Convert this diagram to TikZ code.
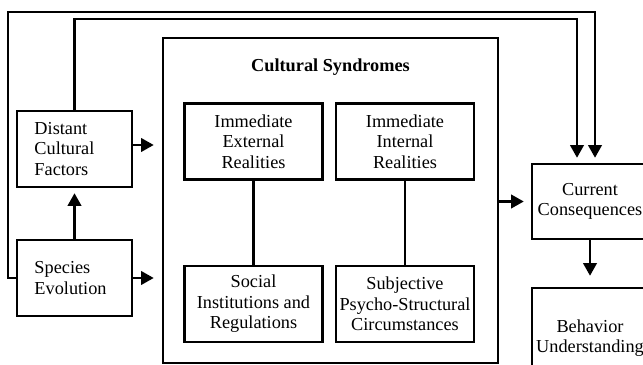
\documentclass[tikz,border=0pt]{standalone}
\usepackage{fontspec}
\setmainfont{Liberation Serif}
\usetikzlibrary{arrows.meta}

\begin{document}
\begin{tikzpicture}[
  x=0.025cm, y=-0.025cm,
  every node/.style={font=\fontsize{13}{14.6}\selectfont},
  box/.style={draw, line width=1.7pt, inner sep=0pt, align=center},
  sidebox/.style={box, minimum width=2.875cm, minimum height=1.9cm,
    text width=2cm, align=left, inner xsep=0.4375cm},
  innerbox/.style={box, minimum width=3.45cm, minimum height=1.9cm},
  rightbox/.style={box, minimum width=2.9cm},
  link/.style={line width=1.9pt},
  arr/.style={link, -{Triangle[length=9pt,width=9.5pt]}}
]
\clip (0,0) rectangle (643,365);

\node[sidebox] (dist) at (74.5,149) {Distant\\Cultural\\Factors};
\node[sidebox] (spec) at (74.5,278) {Species\\Evolution};

\node[box, minimum width=8.375cm, minimum height=8.125cm] (big) at (330.5,200.5) {};
\node[font={\fontsize{13}{14.6}\selectfont\bfseries}] (title) at (330.5,67) {Cultural Syndromes};
\node[innerbox] (ext) at (253.5,141.5) {Immediate\\External\\Realities};
\node[innerbox] (int) at (405,141.5) {Immediate\\Internal\\Realities};
\node[innerbox] (soc) at (253.5,304) {Social\\Institutions and\\Regulations};
\node[innerbox] (subj) at (405,304) {Subjective\\Psycho-Structural\\Circumstances};

\node[rightbox, minimum height=1.875cm] (cur) at (590,201.5) {Current\\Consequences};
\node[rightbox, minimum height=2.5cm] (beh) at (590,338) {Behavior\\Understanding};

\coordinate (c1) at (8,12);
\coordinate (c2) at (595,12);
\coordinate (c4) at (577,19);

\draw[link] (ext) -- (soc);
\draw[link] (int) -- (subj);

\draw[arr, shorten >=0.2cm] ([yshift=0.1cm]dist.east) -- ([yshift=0.1cm]big.west |- dist.east);
\draw[arr, shorten >=0.2cm] (spec.east) -- (big.west |- spec.east);
\draw[arr, shorten >=0.125cm] (spec) -- (dist);
\draw[arr, shorten >=0.175cm] (big.east |- cur.west) -- (cur.west);
\draw[arr, shorten >=0.275cm] (cur) -- (beh);

\draw[arr, shorten >=0.125cm] (spec.west) -| (c1) -| (cur.north -| c2);
\draw[arr, shorten >=0.125cm] (dist.north) |- (c4) -- (c4 |- cur.north);
\end{tikzpicture}
\end{document}
